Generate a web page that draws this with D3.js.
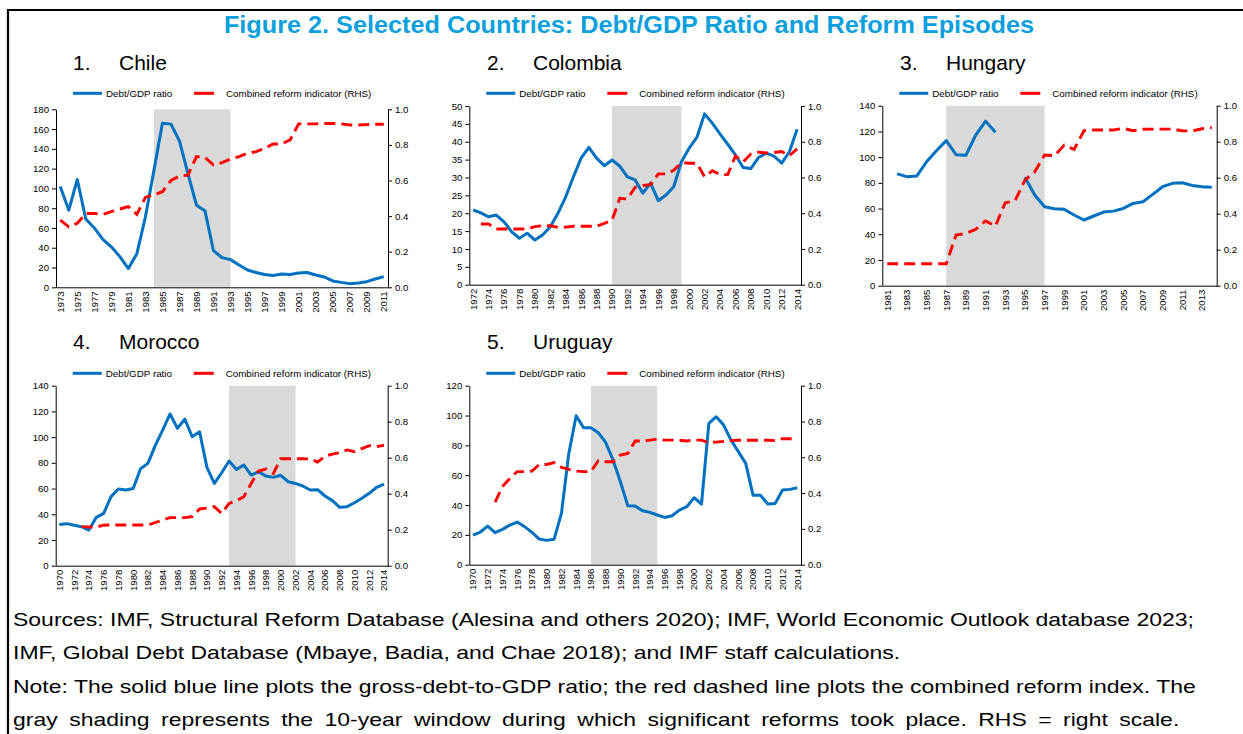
<!DOCTYPE html>
<html><head><meta charset="utf-8">
<script src="https://cdn.jsdelivr.net/npm/d3@7"></script>
<style>
body{margin:0;background:#fff}
svg{display:block}
text{font-family:"Liberation Sans",Arial,sans-serif}
</style>
</head><body>
<svg id="c" width="1243" height="734"></svg>
<script>
// ---------- DATA ----------
const titleText = "Figure 2. Selected Countries: Debt/GDP Ratio and Reform Episodes";
const legendLabels = ["Debt/GDP ratio", "Combined reform indicator (RHS)"];
const panelTitles = [["1.", "Chile"], ["2.", "Colombia"], ["3.", "Hungary"], ["4.", "Morocco"], ["5.", "Uruguay"]];
const footerLines = [
  "Sources: IMF, Structural Reform Database (Alesina and others 2020); IMF, World Economic Outlook database 2023;",
  "IMF, Global Debt Database (Mbaye, Badia, and Chae 2018); and IMF staff calculations.",
  "Note: The solid blue line plots the gross-debt-to-GDP ratio; the red dashed line plots the combined reform index. The",
  "gray shading represents the 10-year window during which significant reforms took place. RHS = right scale."
];
const rhsTicks = [0, 0.2, 0.4, 0.6, 0.8, 1.0];

// Chile 1973-2011, reform window 1984-1993
const chileYears = [1973, 2011];
const chileShade = [1984, 1993];
const chileLhsTicks = [0, 20, 40, 60, 80, 100, 120, 140, 160, 180];
const chileDebt = [102, 78, 109, 69, 60, 48.5, 41, 31, 19, 34, 71, 118, 166, 165, 148, 115, 83, 77.5, 37, 30, 28, 22.6, 17.5, 15, 13, 12, 13.5, 13, 14.5, 15, 12.5, 10.5, 6.4, 5, 3.7, 4.4, 5.7, 8.4, 10.8];
const chileReform = [0.378, 0.34, 0.36, 0.415, 0.415, 0.41, 0.425, 0.44, 0.453, 0.41, 0.505, 0.52, 0.537, 0.60, 0.625, 0.63, 0.734, 0.73, 0.687, 0.70, 0.72, 0.734, 0.753, 0.762, 0.78, 0.805, 0.805, 0.828, 0.918, 0.918, 0.918, 0.92, 0.921, 0.918, 0.912, 0.912, 0.914, 0.916, 0.916];

// Colombia 1972-2014, window 1990-1999
const colYears = [1972, 2014];
const colShade = [1990, 1999];
const colLhsTicks = [0, 5, 10, 15, 20, 25, 30, 35, 40, 45, 50];
const colDebt = [20.9, 20.1, 19, 19.5, 17.6, 14.8, 13, 14.4, 12.5, 13.9, 16.2, 20, 24.6, 30.2, 35.4, 38.4, 35.4, 33.3, 34.9, 33.2, 30.2, 29.3, 25.6, 28.4, 23.5, 25.1, 27.4, 34.4, 38.2, 41.2, 47.8, 45.2, 42.2, 39.3, 36.3, 32.8, 32.5, 35.6, 36.8, 36.0, 34.0, 37.2, 43.5];
const colReform = [null, 0.34, 0.34, 0.312, 0.312, 0.312, 0.312, 0.312, 0.325, 0.33, 0.33, 0.321, 0.322, 0.327, 0.327, 0.327, 0.327, 0.343, 0.36, 0.483, 0.48, 0.545, 0.555, 0.56, 0.62, 0.62, 0.64, 0.683, 0.68, 0.68, 0.604, 0.638, 0.616, 0.616, 0.72, 0.687, 0.731, 0.742, 0.737, 0.74, 0.745, 0.722, 0.76];

// Hungary 1981-2014, window 1987-1997
const hunYears = [1981, 2014];
const hunShade = [1987, 1997];
const hunLhsTicks = [0, 20, 40, 60, 80, 100, 120, 140];
const hunDebt = [null, 87, 84.8, 85.3, 96.4, 105, 112.8, 101.9, 101.4, 117.2, 128, 119.3, null, null, 84.3, 70.5, 61.4, 59.9, 59.4, 55, 51.1, 54.2, 57.3, 58, 60.1, 64, 65.3, 71, 77, 79.6, 80.1, 78, 77, 76.5];
const hunReform = [0.122, 0.122, 0.122, 0.122, 0.122, 0.122, 0.122, 0.281, 0.29, 0.313, 0.36, 0.331, 0.461, 0.472, 0.587, 0.633, 0.726, 0.722, 0.781, 0.757, 0.861, 0.865, 0.865, 0.865, 0.874, 0.861, 0.869, 0.87, 0.87, 0.87, 0.861, 0.859, 0.872, 0.878];

// Morocco 1970-2014, window 1993-2002
const morYears = [1970, 2014];
const morShade = [1993, 2002];
const morLhsTicks = [0, 20, 40, 60, 80, 100, 120, 140];
const morDebt = [32.1, 32.7, 31.4, 30.3, 27.7, 37.6, 40.7, 53.7, 59.6, 58.9, 60.1, 75.4, 79.6, 93.6, 105.5, 118, 106.8, 114, 100.3, 104.2, 76.5, 64, 72.3, 81.4, 74.9, 78.3, 70.5, 73.1, 69.7, 68.7, 70.3, 65.3, 64, 62, 58.9, 59.1, 54.2, 50.6, 45.4, 45.9, 49, 52.4, 56.3, 61, 63.5];
const morReform = [null, null, null, 0.217, 0.215, 0.215, 0.225, 0.226, 0.226, 0.226, 0.226, 0.226, 0.226, 0.24, 0.254, 0.267, 0.267, 0.267, 0.272, 0.315, 0.32, 0.328, 0.29, 0.346, 0.361, 0.383, 0.457, 0.526, 0.537, 0.513, 0.594, 0.594, 0.594, 0.594, 0.593, 0.576, 0.609, 0.62, 0.628, 0.643, 0.633, 0.65, 0.667, 0.661, 0.669];

// Uruguay 1970-2014, window 1986-1995
const uruYears = [1970, 2014];
const uruShade = [1986, 1995];
const uruLhsTicks = [0, 20, 40, 60, 80, 100, 120];
const uruDebt = [19.9, 21.9, 25.9, 21.5, 23.7, 26.6, 28.6, 25.5, 21.7, 17.2, 16.3, 17, 34.4, 74.6, 99.9, 91.8, 91.8, 88.5, 82, 70.2, 55.6, 39.6, 39.3, 36.2, 35.1, 33.3, 31.7, 32.8, 36.6, 38.9, 44.9, 40.7, 94.7, 99.2, 93.6, 83.6, 75.8, 67.9, 46.5, 46.5, 40.7, 41.1, 50.1, 50.5, 51.6];
const uruReform = [null, null, null, 0.35, 0.436, 0.482, 0.52, 0.52, 0.523, 0.56, 0.56, 0.57, 0.544, 0.533, 0.523, 0.52, 0.52, 0.581, 0.575, 0.575, 0.613, 0.622, 0.691, 0.691, 0.696, 0.702, 0.696, 0.696, 0.695, 0.691, 0.696, 0.696, 0.682, 0.685, 0.689, 0.693, 0.695, 0.695, 0.695, 0.695, 0.695, 0.693, 0.704, 0.704, 0.702];

// ---------- LAYOUT ----------
const BLUE = "#0070c0", RED = "#ff0000", SHADE = "#d9d9d9", TITLEBLUE = "#0ba0dd";
const panels = [
  {yrs: chileYears, shade: chileShade, ticks: chileLhsTicks, debt: chileDebt, reform: chileReform, l: 56, r: 388, t: 109.3, b: 287.3, legY: 93.3, titleY: 70, titleX: 73},
  {yrs: colYears, shade: colShade, ticks: colLhsTicks, debt: colDebt, reform: colReform, l: 469.3, r: 801, t: 106, b: 284.7, legY: 93.3, titleY: 70, titleX: 487},
  {yrs: hunYears, shade: hunShade, ticks: hunLhsTicks, debt: hunDebt, reform: hunReform, l: 882.3, r: 1216.7, t: 105.7, b: 285.7, legY: 93.3, titleY: 70, titleX: 900},
  {yrs: morYears, shade: morShade, ticks: morLhsTicks, debt: morDebt, reform: morReform, l: 55.7, r: 387.7, t: 385.7, b: 565.7, legY: 373.3, titleY: 349, titleX: 73},
  {yrs: uruYears, shade: uruShade, ticks: uruLhsTicks, debt: uruDebt, reform: uruReform, l: 469.3, r: 801, t: 385.7, b: 564.7, legY: 373.3, titleY: 349, titleX: 487}
];

const svg = d3.select("#c");

// frame
svg.append("path").attr("d", "M8,734V10H1243").attr("fill", "none").attr("stroke", "#000").attr("stroke-width", 2.2);

// main title
svg.append("text").attr("transform", "translate(629,33) scale(1.075,1)")
  .attr("text-anchor", "middle").attr("font-size", 23.5).attr("font-weight", "bold")
  .attr("fill", TITLEBLUE).text(titleText);

// footer (last line is stretched to the full width like the justified original)
footerLines.forEach((t, i) => {
  svg.append("text").attr("transform", `translate(13,${626 + i * 33.4}) scale(1.21,1)`)
    .attr("font-size", 19).attr("fill", "#000")
    .attr("word-spacing", i === 3 ? 4.2 : 0).text(t);
});

panels.forEach((p, pi) => {
  const years = d3.range(p.yrs[0], p.yrs[1] + 1);
  const x = d3.scaleBand().domain(years).range([p.l, p.r]);
  const cx = yr => x(yr) + x.bandwidth() / 2;
  const yMax = p.ticks[p.ticks.length - 1];
  const yL = d3.scaleLinear().domain([0, yMax]).range([p.b, p.t]);
  const yR = d3.scaleLinear().domain([0, 1]).range([p.b, p.t]);
  const g = svg.append("g");

  // panel title
  g.append("text").attr("x", p.titleX).attr("y", p.titleY).attr("font-size", 21).text(panelTitles[pi][0]);
  g.append("text").attr("x", p.titleX + 46).attr("y", p.titleY).attr("font-size", 21).text(panelTitles[pi][1]);

  // legend
  g.append("line").attr("x1", p.l + 17).attr("x2", p.l + 46).attr("y1", p.legY).attr("y2", p.legY)
    .attr("stroke", BLUE).attr("stroke-width", 3);
  g.append("text").attr("x", p.l + 50).attr("y", p.legY + 3.5).attr("font-size", 9.8).text(legendLabels[0]);
  g.append("line").attr("x1", p.l + 138).attr("x2", p.l + 158).attr("y1", p.legY).attr("y2", p.legY)
    .attr("stroke", RED).attr("stroke-width", 3);
  g.append("text").attr("x", p.l + 170).attr("y", p.legY + 3.5).attr("font-size", 9.8).text(legendLabels[1]);

  // shading
  g.append("rect").attr("x", cx(p.shade[0])).attr("width", cx(p.shade[1]) - cx(p.shade[0]))
    .attr("y", p.t).attr("height", p.b - p.t).attr("fill", SHADE);

  // axes
  const left = g.append("g").attr("transform", `translate(${p.l},0)`)
    .call(d3.axisLeft(yL).tickValues(p.ticks).tickSize(4).tickSizeOuter(0).tickPadding(3).tickFormat(d3.format("d")));
  const right = g.append("g").attr("transform", `translate(${p.r},0)`)
    .call(d3.axisRight(yR).tickValues(rhsTicks).tickSize(4).tickSizeOuter(0).tickPadding(3).tickFormat(d3.format(".1f")));
  const bottom = g.append("g").attr("transform", `translate(0,${p.b})`)
    .call(d3.axisBottom(x).tickValues(years.filter((d, i) => i % 2 === 0)).tickSize(0).tickSizeOuter(0).tickPadding(0));
  bottom.selectAll("text").attr("transform", "rotate(-90)").attr("text-anchor", "end")
    .attr("x", -4).attr("y", 0).attr("dy", "0.35em");
  [left, right, bottom].forEach(a => {
    a.selectAll("text").attr("font-size", 9.6).attr("fill", "#000").attr("font-family", '"Liberation Sans",Arial,sans-serif');
    a.selectAll("path,line").attr("stroke", "#000").attr("stroke-width", 1);
  });

  // lines
  const lineL = d3.line().defined(d => d != null).x((d, i) => cx(years[i])).y(d => yL(d));
  const lineR = d3.line().defined(d => d != null).x((d, i) => cx(years[i])).y(d => yR(d));
  g.append("path").attr("d", lineL(p.debt)).attr("fill", "none").attr("stroke", BLUE)
    .attr("stroke-width", 3).attr("stroke-linejoin", "round");
  g.append("path").attr("d", lineR(p.reform)).attr("fill", "none").attr("stroke", RED)
    .attr("stroke-width", 2.9).attr("stroke-dasharray", "11,6");
});
</script>
</body></html>
